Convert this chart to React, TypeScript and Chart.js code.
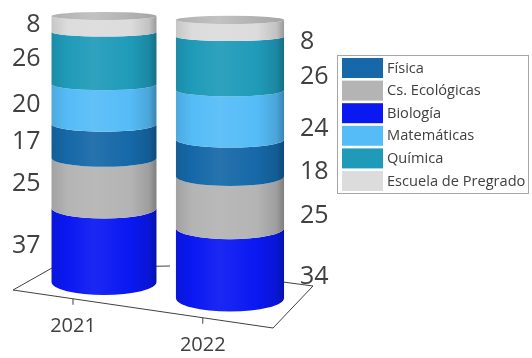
import React, { useEffect, useRef } from 'react';
import { Chart, registerables } from 'chart.js';

Chart.register(...registerables);

// ---- data ----
const years = ['2021', '2022'];
const biologia = [37, 34];
const csEcologicas = [25, 25];
const fisica = [17, 18];
const matematicas = [20, 24];
const quimica = [26, 26];
const escuela = [8, 8];

// stacking order (bottom -> top)
const stackLabels = ['Biología', 'Cs. Ecológicas', 'Física', 'Matemáticas', 'Química', 'Escuela de Pregrado'];
const stackValues = [biologia, csEcologicas, fisica, matematicas, quimica, escuela];
const stackColors = ['#0a18f2', '#b4b4b4', '#1668a8', '#55bcf7', '#1f9bb9', '#dcdcdc'];
// legend order
const legendOrder = ['Física', 'Cs. Ecológicas', 'Biología', 'Matemáticas', 'Química', 'Escuela de Pregrado'];

const TEXT = '#404040';
const FONT = "'Open Sans', sans-serif";

function shade(hex: string, t: number) {
  const n = parseInt(hex.slice(1), 16);
  const r = (n >> 16) & 255, g = (n >> 8) & 255, b = n & 255;
  const f = (c: number) => Math.max(0, Math.min(255, Math.round(t >= 0 ? c + (255 - c) * t : c * (1 + t))));
  return '#' + [f(r), f(g), f(b)].map((v) => v.toString(16).padStart(2, '0')).join('');
}

const cylinderPlugin = {
  id: 'cylinders',
  beforeDatasetsDraw() {
    return false;
  },
  afterDraw(chart: any) {
    const ctx: CanvasRenderingContext2D = chart.ctx;
    const xs = chart.scales.x;
    const ys = chart.scales.y;
    const base = ys.getPixelForValue(0);
    const xRef = xs.getPixelForValue(0);
    const step = xs.getPixelForValue(1) - xRef;
    const SHEAR = 0.127;
    const GROW = 0.03;
    const scaleAt = (cx: number) => 1 + (GROW * (cx - xRef)) / step;
    const proj = (cx: number, y: number) => base + SHEAR * (cx - xRef) - (base - y) * scaleAt(cx);
    const ryAt = (y: number) => Math.max(2, 13 + (y - base) * 0.0337);

    // floor
    ctx.save();
    ctx.strokeStyle = '#404040';
    ctx.lineWidth = 1;
    ctx.beginPath();
    ctx.moveTo(xRef - 52, base - 14);
    ctx.lineTo(xRef - 91, base + 8);
    ctx.lineTo(xRef + 169, base + 46);
    ctx.lineTo(xRef + 209, base + 4);
    ctx.lineTo(xRef + 179, base);
    ctx.moveTo(xRef - 52, base - 14);
    ctx.lineTo(xRef + 66, base - 16);
    ctx.stroke();

    // ticks and category labels
    const frontY = (x: number) => base + 8 + ((x - (xRef - 91)) * 38) / 260;
    ctx.fillStyle = TEXT;
    ctx.font = `20px ${FONT}`;
    ctx.textAlign = 'center';
    ctx.textBaseline = 'middle';
    years.forEach((yr, j) => {
      const cx = xs.getPixelForValue(j);
      const tx = xRef - 31 + (cx - xRef) * 1.03;
      const ey = frontY(tx);
      ctx.beginPath();
      ctx.moveTo(tx, ey);
      ctx.lineTo(tx, ey + 6);
      ctx.stroke();
      ctx.fillText(yr, tx, ey + 28);
    });
    ctx.restore();

    // cylinders
    const nBars = years.length;
    for (let j = 0; j < nBars; j++) {
      let topY = 0, topHW = 0, topCx = 0, topColor = '#000000';
      const segs: { mid: number; value: number }[] = [];
      for (let i = 0; i < stackValues.length; i++) {
        const el = chart.getDatasetMeta(i).data[j];
        const cx = el.x;
        const s = scaleAt(cx);
        const hw = (el.width / 2) * s;
        const yb = proj(cx, el.base);
        const yt = proj(cx, el.y);
        const col = stackColors[i];
        const g = ctx.createLinearGradient(cx - hw, 0, cx + hw, 0);
        g.addColorStop(0, shade(col, -0.1));
        g.addColorStop(0.15, shade(col, 0));
        g.addColorStop(0.4, shade(col, 0.07));
        g.addColorStop(0.75, shade(col, 0));
        g.addColorStop(0.93, shade(col, -0.12));
        g.addColorStop(1, shade(col, -0.3));
        ctx.beginPath();
        ctx.moveTo(cx - hw, yt);
        ctx.lineTo(cx - hw, yb);
        ctx.ellipse(cx, yb, hw, ryAt(yb), 0, Math.PI, 0, true);
        ctx.lineTo(cx + hw, yt);
        ctx.ellipse(cx, yt, hw, ryAt(yt), 0, 0, Math.PI, false);
        ctx.closePath();
        ctx.fillStyle = g;
        ctx.fill();
        topY = yt; topHW = hw; topCx = cx; topColor = col;
        segs.push({ mid: (yb + yt) / 2, value: stackValues[i][j] });
      }
      // top cap
      const g2 = ctx.createLinearGradient(topCx - topHW, 0, topCx + topHW, 0);
      g2.addColorStop(0, shade(topColor, -0.2));
      g2.addColorStop(0.4, shade(topColor, -0.12));
      g2.addColorStop(1, shade(topColor, -0.25));
      ctx.beginPath();
      ctx.ellipse(topCx, topY, topHW, ryAt(topY), 0, 0, Math.PI * 2);
      ctx.fillStyle = g2;
      ctx.fill();

      // value labels
      ctx.save();
      ctx.fillStyle = TEXT;
      ctx.font = `25px ${FONT}`;
      ctx.textBaseline = 'middle';
      const left = j === 0;
      ctx.textAlign = left ? 'right' : 'left';
      const lx = left ? topCx - topHW - 11 : topCx + topHW + 16;
      const shift = left ? 1 : 14;
      segs.forEach((sg) => ctx.fillText(String(sg.value), lx, sg.mid + shift));
      ctx.restore();
    }

    // legend
    ctx.save();
    const lx0 = 337.5, ly0 = 55.5, lw = 191, lh = 138;
    ctx.fillStyle = '#ffffff';
    ctx.fillRect(lx0, ly0, lw, lh);
    ctx.strokeStyle = '#a6a6a6';
    ctx.lineWidth = 1;
    ctx.strokeRect(lx0, ly0, lw, lh);
    ctx.font = `14.6px ${FONT}`;
    ctx.textAlign = 'left';
    ctx.textBaseline = 'middle';
    legendOrder.forEach((name, k) => {
      const idx = stackLabels.indexOf(name);
      const ry = 58 + k * 22.6;
      ctx.fillStyle = stackColors[idx];
      ctx.fillRect(342, ry, 41, 20);
      ctx.fillStyle = TEXT;
      ctx.fillText(name, 387, ry + 10.5);
    });
    ctx.restore();
  },
};

export default function App() {
  const ref = useRef<HTMLCanvasElement | null>(null);
  useEffect(() => {
    document.body.style.margin = '0';
    const canvas = ref.current;
    if (!canvas) return;
    const chart = new Chart(canvas, {
      type: 'bar',
      data: {
        labels: years,
        datasets: stackLabels.map((label, i) => ({
          label,
          data: stackValues[i],
          backgroundColor: stackColors[i],
          stack: 's',
        })),
      },
      options: {
        responsive: false,
        animation: false,
        events: [],
        layout: { padding: { left: 41, right: 239, top: 2, bottom: 76 } },
        datasets: { bar: { barPercentage: 0.833, categoryPercentage: 1 } },
        plugins: { legend: { display: false }, tooltip: { enabled: false } },
        scales: {
          x: { display: false, stacked: true, offset: true },
          y: { display: false, stacked: true, min: 0, max: 140 },
        },
      },
      plugins: [cylinderPlugin],
    } as any);
    return () => chart.destroy();
  }, []);
  return (
    <div style={{ width: 532, height: 358, background: '#fff' }}>
      <canvas ref={ref} width={532} height={358} />
    </div>
  );
}
